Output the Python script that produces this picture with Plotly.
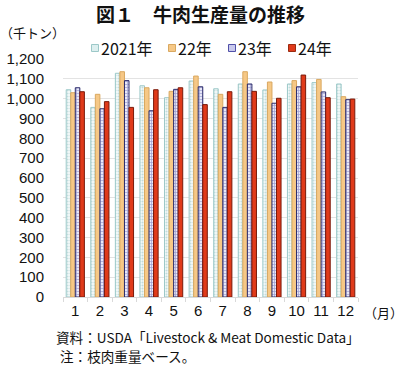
import plotly.graph_objects as go

months = ["1", "2", "3", "4", "5", "6", "7", "8", "9", "10", "11", "12"]
series_names = ["2021年", "22年", "23年", "24年"]
v2021 = [1045, 956, 1128, 1065, 1005, 1089, 1050, 1074, 1044, 1074, 1081, 1074]
v2022 = [1030, 1022, 1136, 1055, 1037, 1114, 1022, 1136, 1084, 1091, 1097, 1010]
v2023 = [1055, 949, 1091, 939, 1047, 1060, 956, 1074, 977, 1060, 1034, 995]
v2024 = [1035, 985, 956, 1045, 1055, 970, 1035, 1037, 1002, 1119, 1005, 998]
y_ticks = [0, 100, 200, 300, 400, 500, 600, 700, 800, 900, 1000, 1100, 1200]
y_tick_labels = ["0", "100", "200", "300", "400", "500", "600", "700", "800", "900", "1,000", "1,100", "1,200"]

styles = [
    dict(color="#FFFFFF", line=dict(color="#9CC8C8", width=1),
         pattern=dict(shape=".", fgcolor="#8FC0C0", bgcolor="#F4FAFA", size=3, solidity=0.4)),
    dict(color="#F6C886", line=dict(color="#D9A860", width=1)),
    dict(color="#FFFFFF", line=dict(color="#2A2A6A", width=1),
         pattern=dict(shape="+", fgcolor="#5050A8", bgcolor="#E8E8F8", size=3, solidity=0.4)),
    dict(color="#E03A1A", line=dict(color="#7A1A0A", width=1)),
]
legend_swatch = [("#DDEFEF", "#9CC8C8"), ("#F6C886", "#D9A860"), ("#C8C8EC", "#5050A8"), ("#E03A1A", "#9A2A10")]

font_jp = "Noto Sans CJK JP, Liberation Sans, Arial, sans-serif"
font_num = "Liberation Sans, Arial, sans-serif"

W, H = 400, 366
l, r, t, b = 63, 42, 59, 69
pw, ph = W - l - r, H - t - b
def px(x):
    return (x - l) / pw
def py(y):
    return (H - b - y) / ph

fig = go.Figure()
for name, vals, st in zip(series_names, [v2021, v2022, v2023, v2024], styles):
    fig.add_trace(go.Bar(x=months, y=vals, name=name, marker=st, showlegend=False))

fig.update_layout(
    width=W, height=H,
    margin=dict(l=l, r=r, t=t, b=b),
    paper_bgcolor="white", plot_bgcolor="white",
    barmode="group", bargap=0.26, bargroupgap=0.0,
    showlegend=False,
    xaxis=dict(type="category", tickson="boundaries", ticks="outside", ticklen=4,
               tickcolor="#D9D9D9", showline=True, linecolor="#D9D9D9", linewidth=1,
               showgrid=False, tickangle=0, automargin=False,
               tickfont=dict(family=font_num, size=15, color="#111111")),
    yaxis=dict(range=[0, 1200], tickvals=y_ticks, ticktext=y_tick_labels,
               showgrid=True, gridcolor="#E3E3E3", gridwidth=1, zeroline=False,
               showline=False, ticks="", ticklabelstandoff=18, automargin=False,
               tickfont=dict(family=font_num, size=15, color="#111111")),
)

fig.add_annotation(text="図１　牛肉生産量の推移", x=px(200), y=py(13), xref="paper", yref="paper",
                   xanchor="center", yanchor="middle", showarrow=False,
                   font=dict(family=font_jp, size=19, color="#111111", weight="bold"))
fig.add_annotation(text="（千トン）", x=px(-2), y=py(33), xref="paper", yref="paper",
                   xanchor="left", yanchor="middle", showarrow=False,
                   font=dict(family=font_jp, size=13, color="#111111"))
fig.add_annotation(text="（月）", x=px(362), y=py(312), xref="paper", yref="paper",
                   xanchor="left", yanchor="middle", showarrow=False,
                   font=dict(family=font_jp, size=13, color="#111111"))
fig.add_annotation(text="資料：USDA「Livestock & Meat Domestic Data」", x=px(54), y=py(337),
                   xref="paper", yref="paper", xanchor="left", yanchor="middle", showarrow=False,
                   font=dict(family=font_jp, size=13.6, color="#111111"))
fig.add_annotation(text="注：枝肉重量ベース。", x=px(58), y=py(356),
                   xref="paper", yref="paper", xanchor="left", yanchor="middle", showarrow=False,
                   font=dict(family=font_jp, size=13.6, color="#111111"))

# manual legend
leg_sq_x = [95, 172, 232, 292]
for (fill, edge), name, sx in zip(legend_swatch, series_names, leg_sq_x):
    fig.add_shape(type="rect", xref="paper", yref="paper",
                  x0=px(sx - 3.5), x1=px(sx + 3.5), y0=py(51.5), y1=py(44.5),
                  fillcolor=fill, line=dict(color=edge, width=1))
    fig.add_annotation(text=name, x=px(sx + 4), y=py(48), xref="paper", yref="paper",
                       xanchor="left", yanchor="middle", showarrow=False,
                       font=dict(family=font_jp, size=16, color="#111111"))

fig.write_html("out.html", config={"displayModeBar": False},
               post_script="document.body.style.margin='0';document.body.style.padding='0';document.body.style.overflow='hidden';")
